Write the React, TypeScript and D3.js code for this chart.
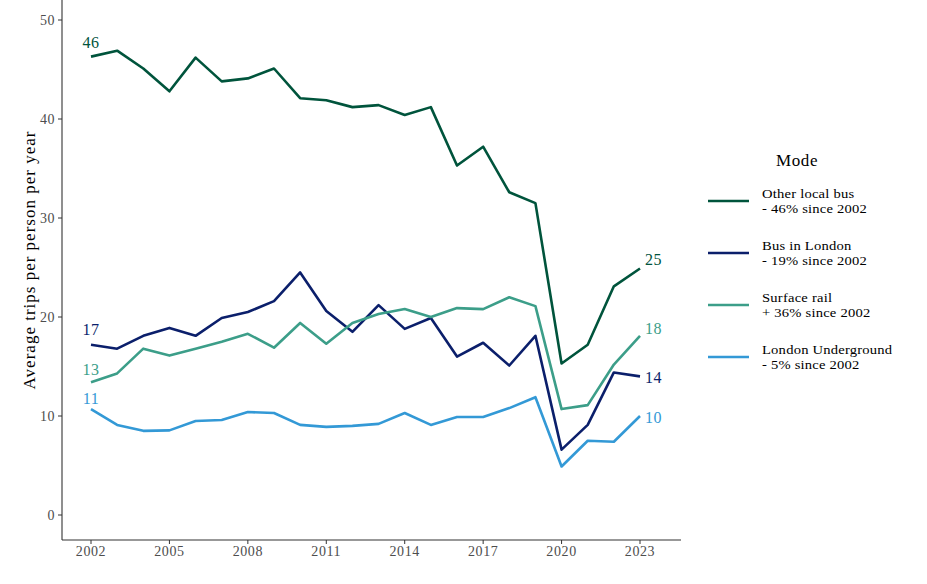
import React from 'react';
import * as d3 from 'd3';

const years = d3.range(2002, 2024);

const otherLocalBus = [46.3, 46.9, 45.1, 42.8, 46.2, 43.8, 44.1, 45.1, 42.1, 41.9, 41.2, 41.4, 40.4, 41.2, 35.3, 37.2, 32.6, 31.5, 15.3, 17.2, 23.1, 24.9];
const busInLondon = [17.2, 16.8, 18.1, 18.9, 18.1, 19.9, 20.5, 21.6, 24.5, 20.6, 18.5, 21.2, 18.8, 19.9, 16.0, 17.4, 15.1, 18.1, 6.6, 9.1, 14.4, 14.0];
const surfaceRail = [13.4, 14.3, 16.8, 16.1, 16.8, 17.5, 18.3, 16.9, 19.4, 17.3, 19.4, 20.3, 20.8, 20.0, 20.9, 20.8, 22.0, 21.1, 10.7, 11.1, 15.2, 18.1];
const londonUnderground = [10.7, 9.1, 8.5, 8.55, 9.5, 9.6, 10.4, 10.3, 9.1, 8.9, 9.0, 9.2, 10.3, 9.1, 9.9, 9.9, 10.8, 11.9, 4.9, 7.5, 7.4, 10.0];

const seriesNames = ['Other local bus', 'Bus in London', 'Surface rail', 'London Underground'];
const seriesChange = ['- 46% since 2002', '- 19% since 2002', '+ 36% since 2002', '- 5% since 2002'];
const seriesColors = ['#00543c', '#0b1f6b', '#3c9e89', '#3399d6'];
const startLabels = ['46', '17', '13', '11'];
const endLabels = ['25', '14', '18', '10'];
// label anchor values (baseline for start labels, centre for end labels)
const startLabelY = [47.2, 18.2, 14.1, 11.2];
const endLabelY = [25.8, 13.9, 18.8, 9.9];

const xTicks = [2002, 2005, 2008, 2011, 2014, 2017, 2020, 2023];
const yTicks = [0, 10, 20, 30, 40, 50];

const W = 927;
const H = 584;
const font = '"Liberation Serif", "Times New Roman", serif';

export default function App() {
  const values = [otherLocalBus, busInLondon, surfaceRail, londonUnderground];
  const x = d3.scaleLinear().domain([2002, 2023]).range([91, 640]);
  const y = d3.scaleLinear().domain([0, 50]).range([515, 20]);
  const line = d3.line<number>()
    .x((_, i) => x(years[i]))
    .y(d => y(d));

  const axisLeft = 62;
  const axisBottom = 540;

  return (
    <svg width={W} height={H} style={{ position: 'absolute', left: 0, top: 0, background: '#fff' }} fontFamily={font}>
      {/* axes */}
      <line x1={axisLeft} x2={axisLeft} y1={0} y2={axisBottom} stroke="#333" strokeWidth={1.1} />
      <line x1={axisLeft} x2={681} y1={axisBottom} y2={axisBottom} stroke="#333" strokeWidth={1.1} />
      {yTicks.map(t => (
        <g key={t}>
          <line x1={axisLeft - 4} x2={axisLeft} y1={y(t)} y2={y(t)} stroke="#333" />
          <text x={axisLeft - 7} y={y(t)} dy="0.35em" textAnchor="end" fontSize={14} letterSpacing={0.5} fill="#4d4d4d">{t}</text>
        </g>
      ))}
      {xTicks.map(t => (
        <g key={t}>
          <line x1={x(t)} x2={x(t)} y1={axisBottom} y2={axisBottom + 4} stroke="#333" />
          <text x={x(t)} y={axisBottom + 16} textAnchor="middle" fontSize={14} letterSpacing={0.6} fill="#4d4d4d">{t}</text>
        </g>
      ))}
      <text transform={`translate(35,${(0 + axisBottom) / 2 - 10}) rotate(-90)`} textAnchor="middle" fontSize={17} letterSpacing={1} fill="#000">
        Average trips per person per year
      </text>

      {/* lines */}
      {values.map((v, i) => (
        <path key={i} d={line(v) || ''} fill="none" stroke={seriesColors[i]} strokeWidth={2.6} strokeLinejoin="round" />
      ))}

      {/* labels */}
      {values.map((v, i) => (
        <text key={'s' + i} x={x(2002)} y={y(startLabelY[i])} textAnchor="middle" fontSize={16} letterSpacing={0.5} fill={seriesColors[i]}>
          {startLabels[i]}
        </text>
      ))}
      {values.map((v, i) => (
        <text key={'e' + i} x={x(2023) + 5} y={y(endLabelY[i])} dy="0.35em" fontSize={16} letterSpacing={0.5} fill={seriesColors[i]}>
          {endLabels[i]}
        </text>
      ))}

      {/* legend */}
      <text x={776} y={166} fontSize={17} letterSpacing={0.6} fill="#000">Mode</text>
      {seriesNames.map((name, i) => {
        const ly = 201 + i * 52;
        return (
          <g key={name}>
            <line x1={708} x2={749} y1={ly} y2={ly} stroke={seriesColors[i]} strokeWidth={2.6} />
            <text transform={`translate(762,${ly - 3}) scale(1.08,1)`} fontSize={13.5} letterSpacing={0.2} fill="#000">{name}</text>
            <text transform={`translate(762,${ly + 12}) scale(1.08,1)`} fontSize={13.5} letterSpacing={0.2} fill="#000">{seriesChange[i]}</text>
          </g>
        );
      })}
    </svg>
  );
}
